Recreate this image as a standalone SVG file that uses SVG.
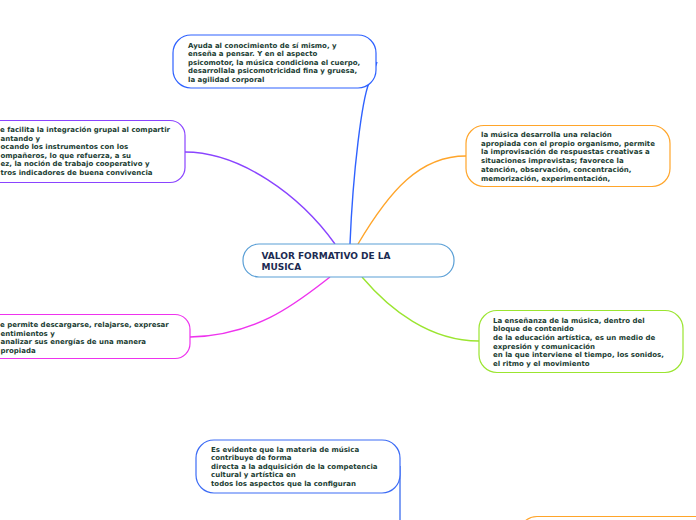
<svg xmlns="http://www.w3.org/2000/svg" width="696" height="520" viewBox="0 0 696 520">
<style>
.box{fill:#ffffff;stroke-width:1.2}
.t{font-family:"DejaVu Sans","Verdana",sans-serif;font-weight:bold;font-size:7px;fill:#1b3d33}
.c{font-family:"DejaVu Sans","Verdana",sans-serif;font-weight:bold;font-size:9px;fill:#1c2b52}
.e{fill:none;stroke-width:1.4}
</style>
<rect width="696" height="520" fill="#ffffff"/>
<g id="connectors">
<path class="e" stroke="#2f62ff" d="M350,244 C353,170 362,100 369,83 C372,75 375,68 377,62"/>
<path class="e" stroke="#8a44ff" d="M185,152 C240,152 300,195 335,244"/>
<path class="e" stroke="#ffa52a" d="M358,244 C390,190 420,156 466,156"/>
<path class="e" stroke="#ee33ee" d="M190,337 C260,335 300,300 330,277"/>
<path class="e" stroke="#9be530" d="M362,277 C390,310 430,341 479,341"/>
<path class="e" stroke="#4a78f0" d="M400,466 L400,520"/>
</g>
<g id="n-top">
<rect class="box" stroke="#2f62ff" x="173" y="35" width="203" height="53" rx="18"/>
<text class="t" x="188"><tspan x="188" y="47.5">Ayuda al conocimiento de sí mismo, y</tspan><tspan x="188" y="56">enseña a pensar. Y en el aspecto</tspan><tspan x="188" y="64.7">psicomotor, la música condiciona el cuerpo,</tspan><tspan x="188" y="73.3">desarrollala psicomotricidad fina y gruesa,</tspan><tspan x="188" y="82">la agilidad corporal</tspan></text>
</g>
<g id="n-purple">
<rect class="box" stroke="#8a44ff" x="-30" y="120.5" width="215" height="62" rx="15"/>
<text class="t"><tspan x="0" y="132">e facilita la integración grupal al compartir</tspan><tspan x="0.5" y="140.6">antando y</tspan><tspan x="0.5" y="149.2">ocando los instrumentos con los</tspan><tspan x="0.5" y="157.8">ompañeros, lo que refuerza, a su</tspan><tspan x="0.5" y="166.4">ez, la noción de trabajo cooperativo y</tspan><tspan x="0.5" y="175">tros indicadores de buena convivencia</tspan></text>
</g>
<g id="n-orange">
<rect class="box" stroke="#ffa52a" x="466" y="125.5" width="204" height="61" rx="18"/>
<text class="t"><tspan x="481" y="137">la música desarrolla una relación</tspan><tspan x="481" y="145.7">apropiada con el propio organismo, permite</tspan><tspan x="481" y="154.4">la improvisación de  respuestas creativas a</tspan><tspan x="481" y="163.1">situaciones imprevistas; favorece la</tspan><tspan x="481" y="171.8">atención, observación, concentración,</tspan><tspan x="481" y="180.5">memorización, experimentación,</tspan></text>
</g>
<g id="n-center">
<rect class="box" stroke="#5a9fd6" x="243" y="244" width="211" height="33" rx="16"/>
<text class="c"><tspan x="261.5" y="258.5">VALOR FORMATIVO DE LA</tspan><tspan x="261.5" y="269.5">MUSICA</tspan></text>
</g>
<g id="n-magenta">
<rect class="box" stroke="#ee33ee" x="-30" y="314.5" width="220" height="44" rx="15"/>
<text class="t"><tspan x="0" y="327">e permite descargarse, relajarse, expresar</tspan><tspan x="0.5" y="335.5">entimientos y</tspan><tspan x="0.5" y="344">analizar sus energías de una manera</tspan><tspan x="0.5" y="352.5">propiada</tspan></text>
</g>
<g id="n-green">
<rect class="box" stroke="#9be530" x="479" y="310.5" width="204" height="62" rx="18"/>
<text class="t"><tspan x="493" y="322.5">La enseñanza de la música, dentro del</tspan><tspan x="493" y="331.2">bloque de contenido</tspan><tspan x="493" y="339.9">de la educación artística, es un medio de</tspan><tspan x="493" y="348.6">expresión y comunicación</tspan><tspan x="493" y="357.3">en la que interviene el tiempo, los sonidos,</tspan><tspan x="493" y="366">el ritmo y el movimiento</tspan></text>
</g>
<g id="n-bottom">
<rect class="box" stroke="#3d6cf5" x="196" y="440" width="204" height="53" rx="18"/>
<text class="t"><tspan x="211" y="451.5">Es evidente que la materia de música</tspan><tspan x="211" y="460">contribuye de forma</tspan><tspan x="211" y="468.6">directa a la adquisición de la competencia</tspan><tspan x="211" y="477.2">cultural y artística en</tspan><tspan x="211" y="485.8">todos los aspectos que la configuran</tspan></text>
</g>
<g id="n-bottom-right">
<rect class="box" stroke="#ffa52a" x="519" y="516.5" width="220" height="50" rx="18"/>
</g>
</svg>
